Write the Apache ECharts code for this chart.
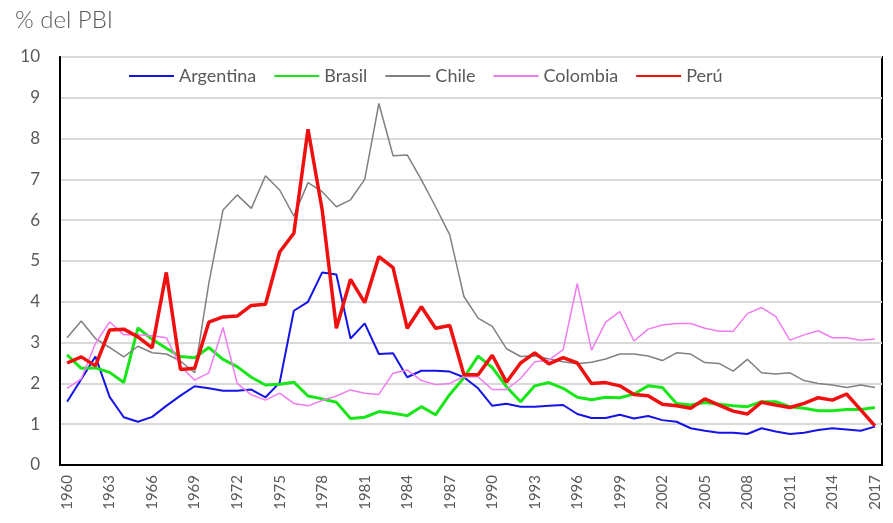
<!DOCTYPE html>
<html><head><meta charset="utf-8">
<script src="https://cdn.jsdelivr.net/npm/echarts@6/dist/echarts.min.js"></script>
<style>html,body{margin:0;padding:0;background:#fff;}#c{width:893px;height:523px;}</style>
</head><body><div id="c"></div>
<script>
const years = [];
for (let y = 1960; y <= 2017; y++) years.push(String(y));
const argentina = [1.55,2.10,2.66,1.67,1.17,1.06,1.18,1.45,1.70,1.93,
  1.88,1.82,1.82,1.85,1.66,2.02,3.78,4.00,4.72,4.67,
  3.10,3.47,2.72,2.74,2.15,2.31,2.31,2.29,2.15,1.88,
  1.45,1.50,1.43,1.43,1.45,1.47,1.25,1.15,1.15,1.23,
  1.14,1.20,1.10,1.06,0.90,0.84,0.79,0.79,0.76,0.90,
  0.82,0.76,0.79,0.86,0.90,0.87,0.84,0.94];
const brasil = [2.70,2.37,2.38,2.27,2.02,3.36,3.08,2.86,2.66,2.63,
  2.88,2.59,2.41,2.15,1.96,1.98,2.03,1.69,1.62,1.54,
  1.14,1.17,1.31,1.27,1.21,1.43,1.23,1.73,2.14,2.67,
  2.39,1.92,1.55,1.94,2.02,1.88,1.66,1.60,1.66,1.65,
  1.74,1.94,1.90,1.51,1.47,1.53,1.49,1.45,1.43,1.55,
  1.55,1.43,1.39,1.33,1.33,1.36,1.36,1.41];
const chile = [3.12,3.53,3.10,2.88,2.65,2.91,2.75,2.72,2.55,2.26,
  4.45,6.25,6.62,6.29,7.09,6.74,6.10,6.92,6.70,6.33,
  6.50,7.00,8.86,7.58,7.60,6.99,6.33,5.64,4.13,3.60,
  3.40,2.85,2.66,2.68,2.60,2.53,2.48,2.52,2.60,2.72,
  2.72,2.67,2.56,2.75,2.72,2.51,2.49,2.30,2.59,2.26,
  2.23,2.26,2.07,2.00,1.96,1.90,1.96,1.90];
const colombia = [1.88,2.11,2.98,3.51,3.19,3.19,3.17,3.12,2.42,2.08,
  2.26,3.37,2.00,1.72,1.59,1.76,1.51,1.45,1.58,1.69,
  1.84,1.76,1.73,2.25,2.33,2.07,1.97,2.00,2.17,2.16,
  1.85,1.85,2.12,2.53,2.57,2.83,4.45,2.81,3.50,3.76,
  3.04,3.33,3.43,3.47,3.47,3.35,3.28,3.28,3.71,3.86,
  3.64,3.06,3.19,3.29,3.12,3.12,3.06,3.09];
const peru = [2.50,2.65,2.43,3.31,3.33,3.14,2.87,4.72,2.34,2.37,
  3.50,3.63,3.65,3.91,3.94,5.22,5.68,8.23,6.25,3.35,
  4.55,3.98,5.11,4.84,3.35,3.88,3.35,3.42,2.21,2.21,
  2.69,2.03,2.50,2.75,2.48,2.63,2.50,2.00,2.02,1.94,
  1.73,1.70,1.49,1.45,1.39,1.62,1.47,1.32,1.25,1.54,
  1.47,1.41,1.51,1.65,1.59,1.74,1.35,0.96];
const yTicks = [0,1,2,3,4,5,6,7,8,9,10];

const FONT = 'Lato, "Open Sans", sans-serif';
function mk(name, data, color, width) {
  return { name, type: 'line', data, symbol: 'none', color,
    lineStyle: { color, width }, z: 3 };
}
const chart = echarts.init(document.getElementById('c'), null, {renderer: 'canvas'});
chart.setOption({
  animation: false,
  backgroundColor: '#fff',
  title: { text: '% del PBI', left: 10, top: 3,
    textStyle: { fontFamily: FONT, fontWeight: 300, fontSize: 24, color: '#595959' } },
  grid: { left: 60, right: 11, top: 57, bottom: 58, show: true, borderColor: '#000', borderWidth: 2, backgroundColor: 'transparent' },
  legend: { left: 123, top: 62, itemWidth: 45, itemHeight: 14, itemGap: 17,
    itemStyle: { opacity: 0 },
    textStyle: { fontFamily: FONT, fontSize: 18, color: '#595959' },
    data: ['Argentina','Brasil','Chile','Colombia','Perú'] },
  xAxis: { type: 'category', data: years, boundaryGap: true,
    axisLine: { show: true, lineStyle: { color: '#000', width: 2 } },
    axisTick: { show: false },
    axisLabel: { interval: 2, rotate: 90, margin: 10, fontFamily: FONT, fontSize: 15, color: '#595959' } },
  yAxis: { type: 'value', min: 0, max: 10, interval: 1,
    axisLine: { show: true, lineStyle: { color: '#000', width: 2 } },
    axisLabel: { margin: 20, fontFamily: FONT, fontSize: 17, color: '#595959',
      formatter: v => yTicks.includes(v) ? String(v) : '' },
    splitLine: { lineStyle: { color: '#d9d9d9', width: 2 } } },
  series: [
    mk('Argentina', argentina, '#1414e6', 2),
    mk('Brasil', brasil, '#19e619', 3),
    mk('Chile', chile, '#808080', 1.5),
    mk('Colombia', colombia, '#f07cf0', 1.5),
    mk('Perú', peru, '#f01010', 3.5)
  ]
});
</script></body></html>
